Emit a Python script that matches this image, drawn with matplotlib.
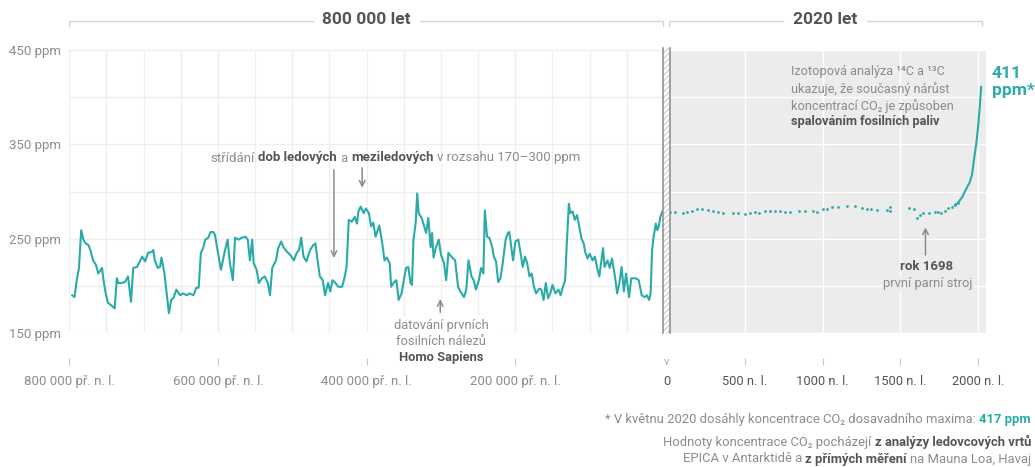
import matplotlib
matplotlib.use('Agg')
import matplotlib.pyplot as plt
from matplotlib.offsetbox import TextArea, HPacker, AnnotationBbox
from matplotlib.patches import Rectangle
from matplotlib.lines import Line2D

FONT = ['Roboto', 'DejaVu Sans']
plt.rcParams['font.family'] = FONT
plt.rcParams['hatch.linewidth'] = 0.7

W, H = 1035, 467
TEAL = '#2aaba8'
GREY = '#8c8c8c'
DARK = '#555555'
GRID = '#efefef'

# ledovcove vrty EPICA: tisice let pred n. l. / ppm
age_kyr = [796, 793, 790, 787, 784, 781, 778, 774, 771, 768,
           764, 761, 756, 754, 751, 748, 743, 739, 736, 734,
           730, 725, 721, 717, 714, 709, 705, 702, 698, 694,
           689, 687, 685, 681, 678, 676, 672, 669, 666, 663,
           660, 656, 651, 647, 642, 638, 633, 629, 626, 623,
           620, 617, 613, 610, 606, 604, 600, 596, 591, 587,
           584, 580, 577, 572, 568, 563, 560, 557, 554, 552,
           548, 545, 541, 537, 533, 530, 527, 522, 519, 515,
           512, 507, 503, 498, 494, 491, 488, 485, 481, 476,
           472, 469, 466, 463, 459, 456, 452, 449, 446, 442,
           438, 433, 430, 427, 424, 420, 416, 413, 411, 408,
           404, 401, 397, 394, 391, 388, 385, 383, 379, 376,
           373, 369, 367, 364, 360, 357, 353, 350, 347, 344,
           341, 339, 337, 334, 332, 330, 326, 323, 320, 317,
           314, 312, 310, 307, 303, 300, 296, 293, 290, 285,
           281, 277, 274, 269, 266, 263, 259, 256, 253, 249,
           246, 243, 241, 238, 235, 231, 229, 226, 223, 220,
           217, 213, 210, 208, 205, 203, 200, 196, 193, 190,
           187, 184, 181, 178, 175, 172, 168, 165, 162, 159,
           156, 153, 150, 146, 142, 139, 136, 133, 131, 128,
           126, 123, 120, 117, 114, 111, 108, 106, 103, 100,
           96, 93, 90, 87, 82, 80, 76, 73, 70, 66,
           63, 60, 57, 54, 51, 47, 44, 38, 34, 30,
           26, 23, 20, 18, 16, 14, 11, 9, 7, 5,
           2]
co2_ice = [190, 188, 206, 219, 259, 249, 245, 243, 236, 227,
           222, 213, 219, 206, 192, 182, 179, 176, 208, 203,
           203, 204, 210, 183, 219, 220, 226, 231, 226, 235,
           236, 238, 227, 219, 220, 230, 213, 192, 171, 185,
           187, 196, 190, 192, 190, 192, 190, 198, 198, 235,
           240, 249, 251, 257, 257, 254, 235, 217, 236, 249,
           224, 206, 251, 249, 251, 252, 249, 227, 249, 224,
           217, 203, 208, 210, 203, 190, 219, 227, 240, 247,
           241, 236, 233, 227, 235, 238, 251, 231, 226, 238,
           243, 245, 227, 210, 206, 190, 203, 194, 206, 203,
           199, 199, 208, 220, 270, 268, 273, 266, 279, 284,
           277, 282, 277, 263, 267, 252, 259, 264, 245, 227,
           230, 224, 199, 203, 206, 185, 192, 206, 219, 220,
           203, 201, 249, 267, 298, 277, 272, 264, 256, 272,
           241, 256, 230, 240, 249, 233, 224, 206, 235, 230,
           227, 199, 194, 188, 196, 227, 210, 206, 196, 206,
           219, 213, 280, 252, 251, 241, 231, 226, 204, 208,
           224, 249, 256, 257, 238, 227, 247, 249, 235, 220,
           231, 224, 210, 213, 199, 192, 197, 196, 185, 203,
           187, 192, 201, 192, 196, 190, 199, 206, 241, 287,
           277, 279, 270, 275, 263, 250, 245, 236, 229, 234,
           227, 231, 219, 210, 240, 220, 227, 219, 229, 210,
           192, 203, 220, 194, 213, 188, 208, 208, 206, 190,
           188, 190, 185, 192, 238, 252, 266, 259, 263, 273,
           279]

# poslednich 2020 let: jednotlive body (roky n. l. / ppm)
year_hist = [19, 52, 100, 131, 158, 191, 222, 266, 297, 330,
             362, 426, 458, 501, 533, 565, 593, 629, 662, 694,
             726, 758, 790, 850, 886, 940, 965, 1004, 1026, 1058,
             1100, 1154, 1208, 1250, 1283, 1314, 1351, 1411, 1432, 1432,
             1557, 1586, 1604, 1625, 1642, 1685, 1721, 1743, 1764, 1785,
             1808, 1829, 1850, 1872]
co2_hist = [278, 278, 277.5, 278.6, 279.7, 281.1, 281.4, 280.4, 279.7, 278.6,
            276.8, 276.8, 276.8, 276.5, 276.8, 278, 277, 279, 279.3, 279.7,
            279, 278.6, 278.6, 279.3, 279.3, 279.7, 278.6, 281.1, 281.4, 283.9,
            283.9, 284.6, 284.6, 282.1, 281.4, 281.1, 280.4, 280.4, 283.9, 279.7,
            282.5, 281.4, 272.2, 275, 276.8, 276.8, 278, 278, 276.8, 279.3,
            282.1, 283.9, 285.7, 288.1]

# mereni od konce 19. stoleti
year_modern = [1850, 1872, 1900, 1914, 1946, 1960, 1978, 1990, 2000, 2010, 2019]
co2_modern = [285.7, 288.1, 295, 300, 310, 318, 340, 354, 370, 390, 411]

left_ticks = [800, 600, 400, 200]
left_labels = ['800 000 př. n. l.', '600 000 př. n. l.', '400 000 př. n. l.', '200 000 př. n. l.']
right_ticks = [0, 500, 1000, 1500, 2000]
right_labels = ['0', '500 n. l.', '1000 n. l.', '1500 n. l.', '2000 n. l.']
ppm_ticks = [150, 250, 350, 450]


def fx(x):
    return x / W


def fy(y):
    return 1 - y / H


def rich(parts, x, y, align=0.5, size=9.3):
    kids = [TextArea(t, textprops=dict(color=c, fontweight=w, fontsize=size, family=FONT))
            for t, w, c in parts]
    box = HPacker(children=kids, align='baseline', pad=0, sep=size * 0.25)
    ab = AnnotationBbox(box, (fx(x), fy(y)), xycoords='figure fraction',
                        box_alignment=(align, 0.5), frameon=False, pad=0)
    fig.add_artist(ab)


fig = plt.figure(figsize=(W / 100, H / 100), dpi=100)
ax = fig.add_axes([fx(69.3), fy(333), (664 - 69.3) / W, 283 / H])
ax2 = fig.add_axes([fx(667), fy(333), (986 - 667) / W, 283 / H])

# --- 800 000 let ---
ax.plot(age_kyr, co2_ice, color=TEAL, lw=1.5, solid_joinstyle='round')
ax.set_xlim(800, 0)
ax.set_ylim(150, 450)
ax.set_xticks(left_ticks, left_labels)
ax.set_xticks(range(0, 801, 50), minor=True)
ax.set_yticks(ppm_ticks, [f'{v} ppm' for v in ppm_ticks])
ax.set_yticks(range(150, 451, 50), minor=True)
ax.grid(which='both', color=GRID, lw=0.9)
ax.set_axisbelow(True)
for s in ax.spines.values():
    s.set_visible(False)
ax.spines['bottom'].set_position(('outward', 18))
ax.tick_params(axis='x', which='major', length=5, width=0.8, color='#c8c8c8',
               labelsize=9.5, labelcolor=GREY, pad=7.5)
ax.tick_params(axis='y', which='major', length=0, labelsize=9.5, labelcolor=GREY, pad=6)
ax.tick_params(which='minor', length=0)

ax.annotate('', xy=(444, 229.5), xytext=(444, 323),
            arrowprops=dict(arrowstyle='->', color=GREY, lw=1.1, shrinkA=0, shrinkB=0))
ax.annotate('', xy=(406, 304), xytext=(406, 325), annotation_clip=False,
            arrowprops=dict(arrowstyle='->', color=GREY, lw=1.1, shrinkA=0, shrinkB=0))
ax.annotate('', xy=(301, 186), xytext=(301, 172), annotation_clip=False,
            arrowprops=dict(arrowstyle='->', color=GREY, lw=1.1, shrinkA=0, shrinkB=0))

# --- 2020 let ---
ax2.set_facecolor('#ececec')
ax2.scatter(year_hist, co2_hist, s=4, color=TEAL, lw=0, zorder=3)
ax2.plot(year_modern, co2_modern, color=TEAL, lw=1.5, zorder=3)
ax2.set_xlim(0, 2050)
ax2.set_ylim(150, 450)
ax2.set_xticks(right_ticks, right_labels, fontweight='bold')
ax2.set_yticks(range(150, 451, 50))
ax2.grid(color='white', lw=1)
ax2.set_axisbelow(True)
for s in ax2.spines.values():
    s.set_visible(False)
ax2.spines['bottom'].set_position(('outward', 18))
ax2.tick_params(axis='x', length=5, width=0.8, color='#c8c8c8', labelsize=9.3,
                labelcolor=DARK, pad=7.5)
ax2.tick_params(axis='y', left=False, labelleft=False)
ax2.xaxis.get_major_ticks()[0].tick1line.set_visible(False)

ax2.annotate('', xy=(1661, 262), xytext=(1661, 232.7),
             arrowprops=dict(arrowstyle='->', color=GREY, lw=1.1, shrinkA=0, shrinkB=0))

# oddelovac
fig.add_artist(Rectangle((fx(662.5), fy(333)), 7 / W, 285 / H, transform=fig.transFigure,
                         facecolor='white', edgecolor='#c4c4c4', hatch='//////', lw=0))
for xp in (663, 669.5):
    fig.add_artist(Line2D([fx(xp), fx(xp)], [fy(48), fy(333)], transform=fig.transFigure,
                          color='#8a8a8a', lw=1.1))
fig.text(fx(667), fy(362), 'v', ha='center', va='center', fontsize=8, color='#aaaaaa')

# zahlavi
for pts in ([(69.3, 26), (69.3, 20.7), (313, 20.7)], [(420, 20.7), (663, 20.7), (663, 26)],
            [(669, 26), (669, 20.7), (783, 20.7)], [(867, 20.7), (982, 20.7), (982, 26)]):
    fig.add_artist(Line2D([fx(p[0]) for p in pts], [fy(p[1]) for p in pts],
                          transform=fig.transFigure, color='#d6d6d6', lw=1))
fig.text(fx(366.7), fy(20), '800 000 let', ha='center', va='center', fontsize=12.5,
         fontweight='bold', color=DARK)
fig.text(fx(825), fy(20), '2020 let', ha='center', va='center', fontsize=12.5,
         fontweight='bold', color=DARK)

# popisky
rich([('střídání', 'normal', GREY), ('dob ledových', 'bold', DARK), ('a', 'normal', GREY),
      ('meziledových', 'bold', DARK), ('v rozsahu 170–300 ppm', 'normal', GREY)], 395.5, 158,
     size=9.5)

fig.add_artist(Rectangle((fx(385), fy(366)), 115 / W, 50 / H, transform=fig.transFigure,
                         facecolor='white', edgecolor='none'))
fig.text(fx(441), fy(325), 'datování prvních', ha='center', va='center', fontsize=9.3, color=GREY)
fig.text(fx(441), fy(341.5), 'fosilních nálezů', ha='center', va='center', fontsize=9.3, color=GREY)
fig.text(fx(441), fy(357), 'Homo Sapiens', ha='center', va='center', fontsize=9.3,
         fontweight='bold', color=DARK)

for txt, yp in (('Izotopová analýza ¹⁴C a ¹³C', 72), ('ukazuje, že současný nárůst', 89),
                ('koncentrací CO₂ je způsoben', 106)):
    fig.text(fx(791), fy(yp), txt, ha='left', va='center', fontsize=9.2, color=GREY)
fig.text(fx(791), fy(121), 'spalováním fosilních paliv', ha='left', va='center', fontsize=9.2,
         fontweight='bold', color=DARK)

fig.text(fx(992), fy(74), '411', ha='left', va='center', fontsize=12.5, fontweight='bold', color=TEAL)
fig.text(fx(992), fy(91), 'ppm*', ha='left', va='center', fontsize=12.5, fontweight='bold', color=TEAL)

fig.text(fx(927), fy(267), 'rok 1698', ha='center', va='center', fontsize=9.5,
         fontweight='bold', color=DARK)
fig.text(fx(928), fy(284), 'první parní stroj', ha='center', va='center', fontsize=9.3, color=GREY,
         bbox=dict(facecolor='#ececec', edgecolor='none', pad=1))

# poznamky
rich([('* V květnu 2020 dosáhly koncentrace CO₂ dosavadního maxima:', 'normal', GREY),
      ('417 ppm', 'bold', TEAL)], 1031, 420, align=1, size=9.4)
rich([('Hodnoty koncentrace CO₂ pocházejí', 'normal', GREY),
      ('z analýzy ledovcových vrtů', 'bold', DARK)], 1031, 442, align=1, size=9.4)
rich([('EPICA v Antarktidě a', 'normal', GREY), ('z přímých měření', 'bold', DARK),
      ('na Mauna Loa, Havaj', 'normal', GREY)], 1031, 459, align=1, size=9.4)

fig.savefig('out.png', dpi=100, facecolor='white')
